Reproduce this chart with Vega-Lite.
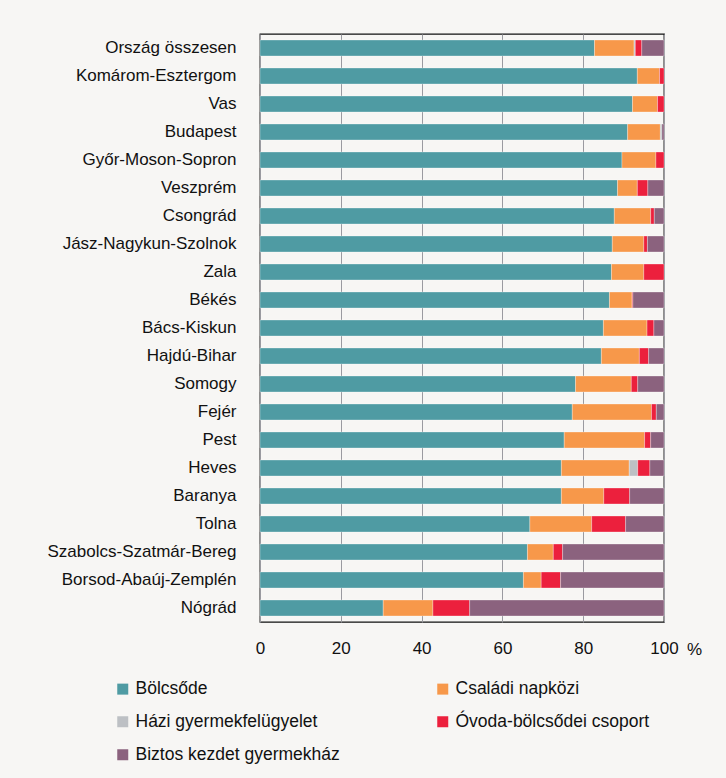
{
  "$schema": "https://vega.github.io/schema/vega-lite/v6.json",
  "width": 404,
  "height": 588,
  "autosize": {"type": "none"},
  "padding": {"left": 260, "top": 34, "right": 62, "bottom": 156},
  "background": "#f7f6f4",
  "config": {
    "font": "Liberation Sans",
    "view": {"stroke": "#111111", "strokeWidth": 1.3}
  },
  "data": {
    "values": [
      {"megye": "Ország összesen", "tipus": "Bölcsőde", "ertek": 82.8, "rend": 1},
      {"megye": "Ország összesen", "tipus": "Családi napközi", "ertek": 9.8, "rend": 2},
      {"megye": "Ország összesen", "tipus": "Házi gyermekfelügyelet", "ertek": 0.3, "rend": 3},
      {"megye": "Ország összesen", "tipus": "Óvoda-bölcsődei csoport", "ertek": 1.6, "rend": 4},
      {"megye": "Ország összesen", "tipus": "Biztos kezdet gyermekház", "ertek": 5.5, "rend": 5},
      {"megye": "Komárom-Esztergom", "tipus": "Bölcsőde", "ertek": 93.4, "rend": 1},
      {"megye": "Komárom-Esztergom", "tipus": "Családi napközi", "ertek": 5.5, "rend": 2},
      {"megye": "Komárom-Esztergom", "tipus": "Óvoda-bölcsődei csoport", "ertek": 1.1, "rend": 4},
      {"megye": "Vas", "tipus": "Bölcsőde", "ertek": 92.2, "rend": 1},
      {"megye": "Vas", "tipus": "Családi napközi", "ertek": 6.2, "rend": 2},
      {"megye": "Vas", "tipus": "Óvoda-bölcsődei csoport", "ertek": 1.6, "rend": 4},
      {"megye": "Budapest", "tipus": "Bölcsőde", "ertek": 91.0, "rend": 1},
      {"megye": "Budapest", "tipus": "Családi napközi", "ertek": 8.1, "rend": 2},
      {"megye": "Budapest", "tipus": "Házi gyermekfelügyelet", "ertek": 0.4, "rend": 3},
      {"megye": "Budapest", "tipus": "Biztos kezdet gyermekház", "ertek": 0.5, "rend": 5},
      {"megye": "Győr-Moson-Sopron", "tipus": "Bölcsőde", "ertek": 89.6, "rend": 1},
      {"megye": "Győr-Moson-Sopron", "tipus": "Családi napközi", "ertek": 8.4, "rend": 2},
      {"megye": "Győr-Moson-Sopron", "tipus": "Óvoda-bölcsődei csoport", "ertek": 2.0, "rend": 4},
      {"megye": "Veszprém", "tipus": "Bölcsőde", "ertek": 88.5, "rend": 1},
      {"megye": "Veszprém", "tipus": "Családi napközi", "ertek": 4.9, "rend": 2},
      {"megye": "Veszprém", "tipus": "Óvoda-bölcsődei csoport", "ertek": 2.6, "rend": 4},
      {"megye": "Veszprém", "tipus": "Biztos kezdet gyermekház", "ertek": 4.0, "rend": 5},
      {"megye": "Csongrád", "tipus": "Bölcsőde", "ertek": 87.7, "rend": 1},
      {"megye": "Csongrád", "tipus": "Családi napközi", "ertek": 9.0, "rend": 2},
      {"megye": "Csongrád", "tipus": "Óvoda-bölcsődei csoport", "ertek": 0.9, "rend": 4},
      {"megye": "Csongrád", "tipus": "Biztos kezdet gyermekház", "ertek": 2.4, "rend": 5},
      {"megye": "Jász-Nagykun-Szolnok", "tipus": "Bölcsőde", "ertek": 87.2, "rend": 1},
      {"megye": "Jász-Nagykun-Szolnok", "tipus": "Családi napközi", "ertek": 7.8, "rend": 2},
      {"megye": "Jász-Nagykun-Szolnok", "tipus": "Óvoda-bölcsődei csoport", "ertek": 0.9, "rend": 4},
      {"megye": "Jász-Nagykun-Szolnok", "tipus": "Biztos kezdet gyermekház", "ertek": 4.1, "rend": 5},
      {"megye": "Zala", "tipus": "Bölcsőde", "ertek": 87.0, "rend": 1},
      {"megye": "Zala", "tipus": "Családi napközi", "ertek": 8.0, "rend": 2},
      {"megye": "Zala", "tipus": "Óvoda-bölcsődei csoport", "ertek": 5.0, "rend": 4},
      {"megye": "Békés", "tipus": "Bölcsőde", "ertek": 86.5, "rend": 1},
      {"megye": "Békés", "tipus": "Családi napközi", "ertek": 5.6, "rend": 2},
      {"megye": "Békés", "tipus": "Óvoda-bölcsődei csoport", "ertek": 0.2, "rend": 4},
      {"megye": "Békés", "tipus": "Biztos kezdet gyermekház", "ertek": 7.7, "rend": 5},
      {"megye": "Bács-Kiskun", "tipus": "Bölcsőde", "ertek": 85.0, "rend": 1},
      {"megye": "Bács-Kiskun", "tipus": "Családi napközi", "ertek": 10.8, "rend": 2},
      {"megye": "Bács-Kiskun", "tipus": "Óvoda-bölcsődei csoport", "ertek": 1.7, "rend": 4},
      {"megye": "Bács-Kiskun", "tipus": "Biztos kezdet gyermekház", "ertek": 2.5, "rend": 5},
      {"megye": "Hajdú-Bihar", "tipus": "Bölcsőde", "ertek": 84.5, "rend": 1},
      {"megye": "Hajdú-Bihar", "tipus": "Családi napközi", "ertek": 9.4, "rend": 2},
      {"megye": "Hajdú-Bihar", "tipus": "Óvoda-bölcsődei csoport", "ertek": 2.3, "rend": 4},
      {"megye": "Hajdú-Bihar", "tipus": "Biztos kezdet gyermekház", "ertek": 3.8, "rend": 5},
      {"megye": "Somogy", "tipus": "Bölcsőde", "ertek": 78.1, "rend": 1},
      {"megye": "Somogy", "tipus": "Családi napközi", "ertek": 13.8, "rend": 2},
      {"megye": "Somogy", "tipus": "Óvoda-bölcsődei csoport", "ertek": 1.6, "rend": 4},
      {"megye": "Somogy", "tipus": "Biztos kezdet gyermekház", "ertek": 6.5, "rend": 5},
      {"megye": "Fejér", "tipus": "Bölcsőde", "ertek": 77.3, "rend": 1},
      {"megye": "Fejér", "tipus": "Családi napközi", "ertek": 19.6, "rend": 2},
      {"megye": "Fejér", "tipus": "Óvoda-bölcsődei csoport", "ertek": 1.2, "rend": 4},
      {"megye": "Fejér", "tipus": "Biztos kezdet gyermekház", "ertek": 1.9, "rend": 5},
      {"megye": "Pest", "tipus": "Bölcsőde", "ertek": 75.3, "rend": 1},
      {"megye": "Pest", "tipus": "Családi napközi", "ertek": 19.9, "rend": 2},
      {"megye": "Pest", "tipus": "Óvoda-bölcsődei csoport", "ertek": 1.5, "rend": 4},
      {"megye": "Pest", "tipus": "Biztos kezdet gyermekház", "ertek": 3.3, "rend": 5},
      {"megye": "Heves", "tipus": "Bölcsőde", "ertek": 74.6, "rend": 1},
      {"megye": "Heves", "tipus": "Családi napközi", "ertek": 16.8, "rend": 2},
      {"megye": "Heves", "tipus": "Házi gyermekfelügyelet", "ertek": 2.1, "rend": 3},
      {"megye": "Heves", "tipus": "Óvoda-bölcsődei csoport", "ertek": 3.0, "rend": 4},
      {"megye": "Heves", "tipus": "Biztos kezdet gyermekház", "ertek": 3.5, "rend": 5},
      {"megye": "Baranya", "tipus": "Bölcsőde", "ertek": 74.6, "rend": 1},
      {"megye": "Baranya", "tipus": "Családi napközi", "ertek": 10.5, "rend": 2},
      {"megye": "Baranya", "tipus": "Óvoda-bölcsődei csoport", "ertek": 6.4, "rend": 4},
      {"megye": "Baranya", "tipus": "Biztos kezdet gyermekház", "ertek": 8.5, "rend": 5},
      {"megye": "Tolna", "tipus": "Bölcsőde", "ertek": 66.8, "rend": 1},
      {"megye": "Tolna", "tipus": "Családi napközi", "ertek": 15.3, "rend": 2},
      {"megye": "Tolna", "tipus": "Óvoda-bölcsődei csoport", "ertek": 8.4, "rend": 4},
      {"megye": "Tolna", "tipus": "Biztos kezdet gyermekház", "ertek": 9.5, "rend": 5},
      {"megye": "Szabolcs-Szatmár-Bereg", "tipus": "Bölcsőde", "ertek": 66.2, "rend": 1},
      {"megye": "Szabolcs-Szatmár-Bereg", "tipus": "Családi napközi", "ertek": 6.4, "rend": 2},
      {"megye": "Szabolcs-Szatmár-Bereg", "tipus": "Óvoda-bölcsődei csoport", "ertek": 2.3, "rend": 4},
      {"megye": "Szabolcs-Szatmár-Bereg", "tipus": "Biztos kezdet gyermekház", "ertek": 25.1, "rend": 5},
      {"megye": "Borsod-Abaúj-Zemplén", "tipus": "Bölcsőde", "ertek": 65.2, "rend": 1},
      {"megye": "Borsod-Abaúj-Zemplén", "tipus": "Családi napközi", "ertek": 4.4, "rend": 2},
      {"megye": "Borsod-Abaúj-Zemplén", "tipus": "Óvoda-bölcsődei csoport", "ertek": 4.8, "rend": 4},
      {"megye": "Borsod-Abaúj-Zemplén", "tipus": "Biztos kezdet gyermekház", "ertek": 25.6, "rend": 5},
      {"megye": "Nógrád", "tipus": "Bölcsőde", "ertek": 30.5, "rend": 1},
      {"megye": "Nógrád", "tipus": "Családi napközi", "ertek": 12.3, "rend": 2},
      {"megye": "Nógrád", "tipus": "Óvoda-bölcsődei csoport", "ertek": 9.1, "rend": 4},
      {"megye": "Nógrád", "tipus": "Biztos kezdet gyermekház", "ertek": 48.1, "rend": 5}
    ]
  },
  "mark": {"type": "bar", "stroke": "#ffffff", "strokeWidth": 0.6, "strokeOpacity": 0.5},
  "encoding": {
    "y": {
      "field": "megye",
      "type": "nominal",
      "sort": null,
      "scale": {"paddingInner": 0.43, "paddingOuter": 0.215},
      "axis": {
        "title": null,
        "domain": false,
        "ticks": false,
        "labelFontSize": 17,
        "labelColor": "#111111",
        "labelPadding": 24,
        "labelLimit": 300
      }
    },
    "x": {
      "field": "ertek",
      "type": "quantitative",
      "stack": "zero",
      "scale": {"domain": [0, 100], "nice": false},
      "axis": {
        "values": [0, 20, 40, 60, 80, 100],
        "title": "%",
        "titleFontSize": 17,
        "titleFontWeight": "normal",
        "titleColor": "#111111",
        "titleX": 434,
        "titleY": 27,
        "titleAlign": "center",
        "titleBaseline": "middle",
        "domain": false,
        "ticks": false,
        "grid": true,
        "gridColor": "#9a9aa0",
        "gridWidth": 1,
        "labelFlush": false,
        "labelFontSize": 17,
        "labelColor": "#111111",
        "labelPadding": 18
      }
    },
    "color": {
      "field": "tipus",
      "type": "nominal",
      "scale": {
        "domain": ["Bölcsőde", "Családi napközi", "Házi gyermekfelügyelet", "Óvoda-bölcsődei csoport", "Biztos kezdet gyermekház"],
        "range": ["#4f9ba3", "#f7984a", "#bdc0c4", "#ec203d", "#8b627e"]
      },
      "legend": {
        "title": null,
        "orient": "none",
        "legendX": -146,
        "legendY": 646,
        "columns": 2,
        "direction": "horizontal",
        "padding": 0,
        "symbolType": "square",
        "symbolSize": 121,
        "symbolStrokeWidth": 0,
        "labelFontSize": 17.5,
        "labelColor": "#111111",
        "labelOffset": 4,
        "labelLimit": 400,
        "rowPadding": 14,
        "columnPadding": 94
      }
    },
    "order": {"field": "rend", "type": "quantitative"}
  }
}
